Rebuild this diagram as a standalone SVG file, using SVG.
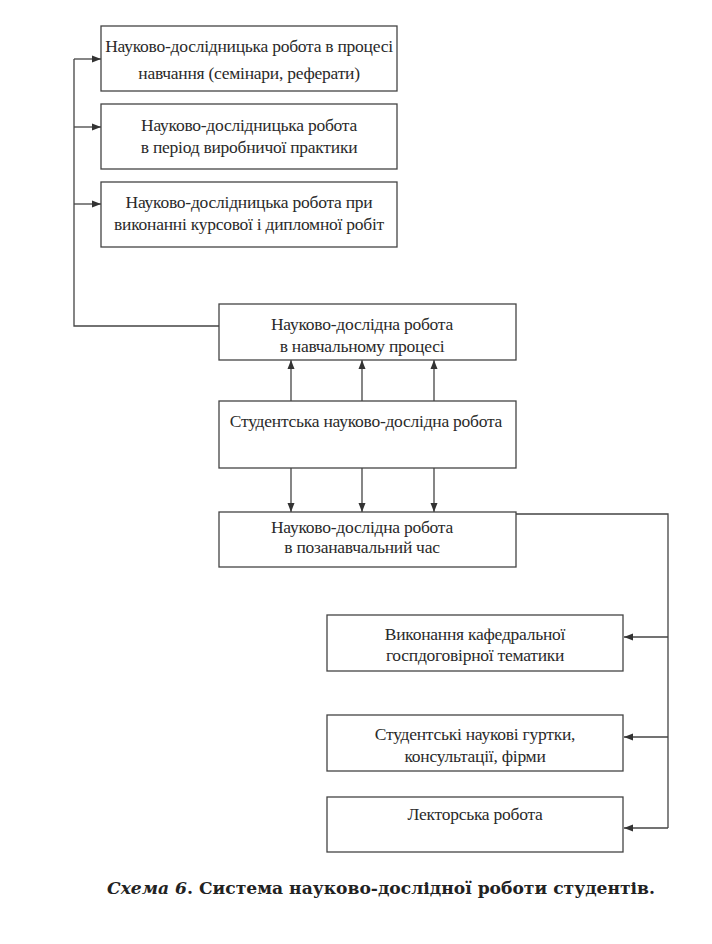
<svg xmlns="http://www.w3.org/2000/svg" width="712" height="944" viewBox="0 0 712 944">
<defs>
<marker id="ah" markerWidth="10" markerHeight="8" refX="9" refY="4" orient="auto" markerUnits="userSpaceOnUse">
<path d="M0,0.5 L9,4 L0,7.5 Z" fill="#333"/>
</marker>
<style>
.box{fill:#fff;stroke:#444;stroke-width:1.3}
.t{font-family:"Liberation Serif","DejaVu Serif",serif;font-size:17.5px;fill:#2a2a2a;text-anchor:middle;letter-spacing:-0.25px}
.c{fill:none;stroke:#444;stroke-width:1.3}
.cap{font-family:"DejaVu Serif","Liberation Serif",serif;font-size:16px;font-weight:bold;fill:#222}
</style>
</defs>
<rect width="712" height="944" fill="#fff"/>
<g id="connectors">
<polyline class="c" points="219,326 74,326 74,59"/>
<line class="c" x1="74" y1="59" x2="101" y2="59" marker-end="url(#ah)"/>
<line class="c" x1="74" y1="127" x2="101" y2="127" marker-end="url(#ah)"/>
<line class="c" x1="74" y1="204" x2="101" y2="204" marker-end="url(#ah)"/>
<line class="c" x1="291" y1="401" x2="291" y2="360" marker-end="url(#ah)"/>
<line class="c" x1="362" y1="401" x2="362" y2="360" marker-end="url(#ah)"/>
<line class="c" x1="434" y1="401" x2="434" y2="360" marker-end="url(#ah)"/>
<line class="c" x1="291" y1="468" x2="291" y2="512" marker-end="url(#ah)"/>
<line class="c" x1="362" y1="468" x2="362" y2="512" marker-end="url(#ah)"/>
<line class="c" x1="434" y1="468" x2="434" y2="512" marker-end="url(#ah)"/>
<polyline class="c" points="516,514 668,514 668,828"/>
<line class="c" x1="668" y1="637" x2="624" y2="637" marker-end="url(#ah)"/>
<line class="c" x1="668" y1="737" x2="624" y2="737" marker-end="url(#ah)"/>
<line class="c" x1="668" y1="828" x2="624" y2="828" marker-end="url(#ah)"/>
</g>
<g id="n1">
<rect class="box" x="101" y="26" width="296" height="65"/>
<text class="t" x="249" y="52">Науково-дослідницька робота в процесі</text>
<text class="t" x="249" y="79">навчання (семінари, реферати)</text>
</g>
<g id="n2">
<rect class="box" x="101" y="104" width="296" height="65"/>
<text class="t" x="249" y="131">Науково-дослідницька робота</text>
<text class="t" x="249" y="153">в період виробничої практики</text>
</g>
<g id="n3">
<rect class="box" x="101" y="182" width="296" height="65"/>
<text class="t" x="249" y="208">Науково-дослідницька робота при</text>
<text class="t" x="249" y="230">виконанні курсової і дипломної робіт</text>
</g>
<g id="n4">
<rect class="box" x="219" y="304" width="297" height="56"/>
<text class="t" x="362" y="330">Науково-дослідна робота</text>
<text class="t" x="362" y="352">в навчальному процесі</text>
</g>
<g id="n5">
<rect class="box" x="219" y="401" width="297" height="67"/>
<text class="t" x="366" y="427">Студентська науково-дослідна робота</text>
</g>
<g id="n6">
<rect class="box" x="219" y="512" width="297" height="55"/>
<text class="t" x="362" y="533">Науково-дослідна робота</text>
<text class="t" x="362" y="553">в позанавчальний час</text>
</g>
<g id="n7">
<rect class="box" x="327" y="615" width="296" height="56"/>
<text class="t" x="475" y="640">Виконання кафедральної</text>
<text class="t" x="475" y="661">госпдоговірної тематики</text>
</g>
<g id="n8">
<rect class="box" x="327" y="715" width="296" height="56"/>
<text class="t" x="475" y="740">Студентські наукові гуртки,</text>
<text class="t" x="475" y="762">консультації, фірми</text>
</g>
<g id="n9">
<rect class="box" x="327" y="797" width="296" height="55"/>
<text class="t" x="475" y="820">Лекторська робота</text>
</g>
<text class="cap" x="107" y="894" textLength="548" lengthAdjust="spacingAndGlyphs"><tspan font-style="italic">Схема 6</tspan>. Система науково-дослідної роботи студентів.</text>
</svg>
